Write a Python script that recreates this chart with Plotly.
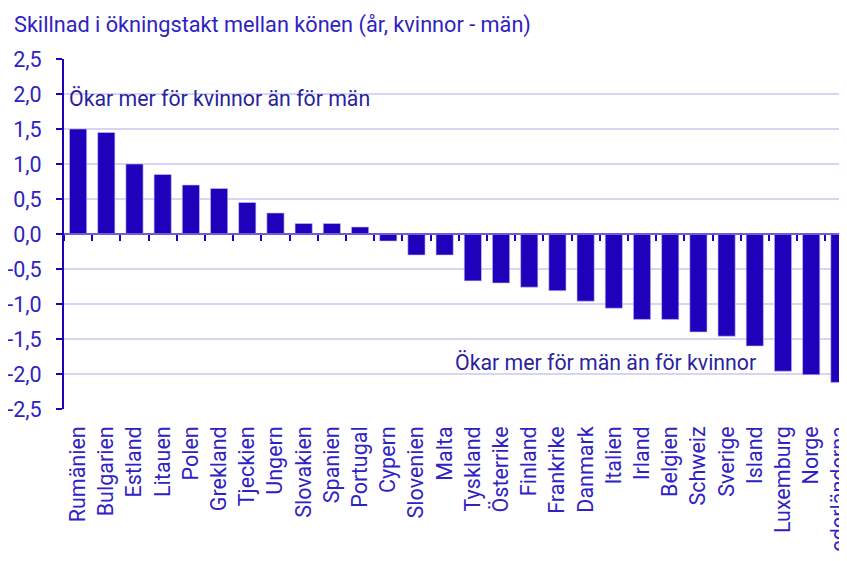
import plotly.graph_objects as go

countries = ["Rumänien", "Bulgarien", "Estland", "Litauen", "Polen", "Grekland", "Tjeckien",
             "Ungern", "Slovakien", "Spanien", "Portugal", "Cypern", "Slovenien", "Malta",
             "Tyskland", "Österrike", "Finland", "Frankrike", "Danmark", "Italien", "Irland",
             "Belgien", "Schweiz", "Sverige", "Island", "Luxemburg", "Norge", "Nederländerna"]
values = [1.5, 1.45, 1.0, 0.85, 0.7, 0.65, 0.45, 0.3, 0.15, 0.15, 0.1, -0.1, -0.3, -0.3,
          -0.67, -0.7, -0.76, -0.81, -0.96, -1.06, -1.22, -1.22, -1.4, -1.46, -1.6, -1.96,
          -2.01, -2.12]
y_tickvals = [2.5, 2.0, 1.5, 1.0, 0.5, 0.0, -0.5, -1.0, -1.5, -2.0, -2.5]
y_ticktext = ["2,5", "2,0", "1,5", "1,0", "0,5", "0,0", "-0,5", "-1,0", "-1,5", "-2,0", "-2,5"]

title_text = "Skillnad i ökningstakt mellan könen (år, kvinnor - män)"
note_up = "Ökar mer för kvinnor än för män"
note_down = "Ökar mer för män än för kvinnor"

BAR = "#1f00bb"
TXT = "#2f22c4"
GRID = "#d6d6f2"
FONT = "Roboto"
FS = 21.7

# page body has an 8px margin; figure sized so it fits the 847x561 window without scrolling
W, H = 839, 545
L, T = 56, 51
PW, PH = W - L, 350

fig = go.Figure()
fig.add_trace(go.Bar(x=countries, y=values, marker=dict(color=BAR, line=dict(color="#c9c4ef", width=0.6)),
                     hoverinfo="x+y"))
fig.add_trace(go.Scatter(x=countries, y=values, mode="markers", marker=dict(opacity=0),
                         xaxis="x2", yaxis="y", hoverinfo="skip", showlegend=False))

fig.update_layout(
    width=W, height=H,
    margin=dict(l=L, r=0, t=T, b=H - T - PH),
    paper_bgcolor="white", plot_bgcolor="white",
    showlegend=False,
    bargap=0.39,
    font=dict(family=FONT, size=FS, color=TXT),
    xaxis=dict(type="category", range=[-0.5, 27.27], showgrid=False, showline=False,
               ticks="", tickangle=-90, tickfont=dict(size=21.5, color=TXT), zeroline=False,
               automargin=False, ticklabelstandoff=12),
    xaxis2=dict(type="category", matches="x", overlaying="x", anchor="free", position=0.5,
                showline=True, linecolor="#6a5fd6", linewidth=1.5, ticks="outside",
                tickson="boundaries", ticklen=6, tickwidth=2, tickcolor=BAR,
                showticklabels=False, showgrid=False, zeroline=False, automargin=False),
    yaxis=dict(range=[-2.5, 2.5], tickvals=y_tickvals, ticktext=y_ticktext,
               showgrid=True, gridcolor=GRID, gridwidth=2, zeroline=False,
               showline=True, linecolor=BAR, linewidth=2, ticks="outside", ticklen=6,
               tickwidth=2, tickcolor=BAR, tickfont=dict(size=21.5, color=TXT),
               automargin=False, ticklabelstandoff=10),
    annotations=[
        dict(text=title_text, xref="paper", yref="paper", x=(4 - L) / PW, y=1 + 34 / PH,
             xanchor="left", yanchor="middle", showarrow=False,
             font=dict(size=FS, color=TXT, family=FONT)),
        dict(text=note_up, xref="paper", yref="y", x=3 / PW, y=1.93,
             xanchor="left", yanchor="middle", showarrow=False,
             font=dict(size=21.3, color="#2a1fa0", family=FONT)),
        dict(text=note_down, xref="paper", yref="y", x=(453 - 64) / PW, y=-1.84,
             xanchor="left", yanchor="middle", showarrow=False,
             font=dict(size=21.3, color="#2a1fa0", family=FONT)),
    ],
)

fig.write_html(
    "out.html",
    post_script="document.documentElement.style.overflow='hidden';document.body.style.overflow='hidden';",
)
